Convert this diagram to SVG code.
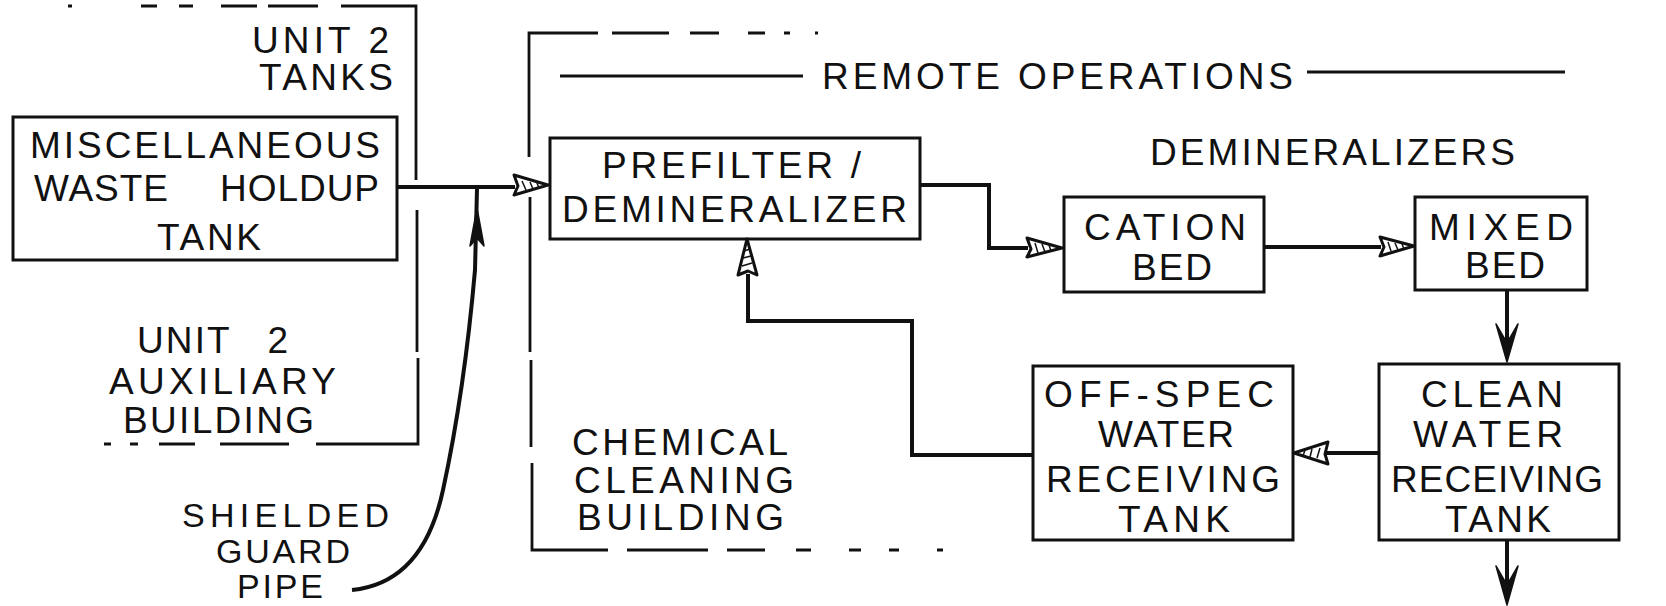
<svg xmlns="http://www.w3.org/2000/svg" width="1666" height="606" viewBox="0 0 1666 606">
<style>
  text { font-family: "Liberation Sans", Arial, sans-serif; font-size: 37px; fill: #111; }
  .sm { font-size: 34px; }
  .box { fill: none; stroke: #111; stroke-width: 3; }
  .region { fill: none; stroke: #111; stroke-width: 2.8; }
  .pipe { fill: none; stroke: #111; stroke-width: 4; stroke-linejoin: miter; }
  .thin { fill: none; stroke: #111; stroke-width: 2.8; }
  .head { fill: #fff; stroke: #111; stroke-width: 3; stroke-linejoin: round; }
  .hatch { fill: none; stroke: #111; stroke-width: 1.5; }
  .barb { fill: #111; stroke: #111; stroke-width: 1.5; stroke-linejoin: round; }
</style>
<rect x="0" y="0" width="1666" height="606" fill="#fff"/>

<!-- Region outlines -->
<g id="unit2-region">
  <path class="region" d="M68,6 H72 M141,6 H157 M179,6 H193 M221,6 H257 M268,6 H318 M341,6 H416 V180 M417,210 V352 M418,358 V444 H316 M289,444 H220 M195,444 H159 M138,444 H130 M111,444 H104"/>
  <text x="252" y="53" textLength="137" lengthAdjust="spacing">UNIT 2</text>
  <text x="259" y="90" textLength="134" lengthAdjust="spacing">TANKS</text>
  <text x="137" y="353" textLength="151" lengthAdjust="spacing" word-spacing="24">UNIT 2</text>
  <text x="109" y="394" textLength="227" lengthAdjust="spacing">AUXILIARY</text>
  <text x="123" y="433" textLength="191" lengthAdjust="spacing">BUILDING</text>
</g>

<g id="remote-region">
  <path class="region" d="M818,33 H815 M790,33 H784 M765,33 H748 M719,33 H690 M669,33 H612 M598,33 H529 V157 M530,197 V352 M531,360 V447 M532,463 V550 H608 M627,550 H708 M727,550 H765 M796,550 H811 M849,550 H861 M889,550 H899 M937,550 H943"/>
  <path class="thin" d="M560,76 H803 M1307,72 H1565"/>
  <text x="822" y="89" textLength="471" lengthAdjust="spacing">REMOTE OPERATIONS</text>
  <text x="1150" y="165" textLength="365" lengthAdjust="spacing">DEMINERALIZERS</text>
  <text x="572" y="455" textLength="216" lengthAdjust="spacing">CHEMICAL</text>
  <text x="574" y="493" textLength="220" lengthAdjust="spacing">CLEANING</text>
  <text x="577" y="530" textLength="207" lengthAdjust="spacing">BUILDING</text>
</g>

<!-- Nodes -->
<g id="misc-waste-tank">
  <rect class="box" x="13" y="117" width="384" height="143"/>
  <text x="30" y="158" textLength="350" lengthAdjust="spacing">MISCELLANEOUS</text>
  <text x="34" y="201" textLength="345" lengthAdjust="spacing" word-spacing="40">WASTE HOLDUP</text>
  <text x="157" y="250" textLength="104" lengthAdjust="spacing">TANK</text>
</g>

<g id="prefilter">
  <rect class="box" x="550" y="138" width="370" height="101"/>
  <text x="602" y="178" textLength="259" lengthAdjust="spacing">PREFILTER /</text>
  <text x="562" y="222" textLength="345" lengthAdjust="spacing">DEMINERALIZER</text>
</g>

<g id="cation-bed">
  <rect class="box" x="1064" y="197" width="200" height="95"/>
  <text x="1084" y="240" textLength="162" lengthAdjust="spacing">CATION</text>
  <text x="1132" y="280" textLength="80" lengthAdjust="spacing">BED</text>
</g>

<g id="mixed-bed">
  <rect class="box" x="1415" y="197" width="172" height="93"/>
  <text x="1429" y="240" textLength="144" lengthAdjust="spacing">MIXED</text>
  <text x="1465" y="278" textLength="80" lengthAdjust="spacing">BED</text>
</g>

<g id="clean-water-tank">
  <rect class="box" x="1379" y="364" width="240" height="176"/>
  <text x="1421" y="407" textLength="142" lengthAdjust="spacing">CLEAN</text>
  <text x="1413" y="447" textLength="150" lengthAdjust="spacing">WATER</text>
  <text x="1391" y="492" textLength="212" lengthAdjust="spacing">RECEIVING</text>
  <text x="1445" y="532" textLength="106" lengthAdjust="spacing">TANK</text>
</g>

<g id="off-spec-tank">
  <rect class="box" x="1033" y="366" width="260" height="174"/>
  <text x="1044" y="407" textLength="230" lengthAdjust="spacing">OFF-SPEC</text>
  <text x="1098" y="447" textLength="136" lengthAdjust="spacing">WATER</text>
  <text x="1046" y="492" textLength="234" lengthAdjust="spacing">RECEIVING</text>
  <text x="1118" y="532" textLength="112" lengthAdjust="spacing">TANK</text>
</g>

<g id="shielded-guard-pipe-label">
  <text class="sm" x="182" y="527" textLength="207" lengthAdjust="spacing">SHIELDED</text>
  <text class="sm" x="216" y="563" textLength="134" lengthAdjust="spacing">GUARD</text>
  <text class="sm" x="237" y="598" textLength="86" lengthAdjust="spacing">PIPE</text>
</g>

<!-- Connectors -->
<g id="connectors">
  <!-- misc tank to prefilter -->
  <path class="pipe" d="M397,187 H515"/>
  <polygon class="head" points="548,185 514,175 518,186 514,195"/>
  <path class="hatch" d="M522,181 L526,190 M530,182 L533,189 M537,183 L539,188"/>

  <!-- shielded guard pipe -->
  <path class="pipe" d="M352,590 C392,586 428,560 443,490 C456,430 468,350 475,270 L477,189"/>
  <polygon class="barb" points="477,208 484,246 477,238 470,246"/>

  <!-- prefilter to cation -->
  <path class="pipe" d="M920,185 H989 V248 H1028"/>
  <polygon class="head" points="1062,248 1027,238 1031,249 1027,257"/>
  <path class="hatch" d="M1035,243 L1038,253 M1042,244 L1045,252 M1049,245 L1051,251"/>

  <!-- cation to mixed -->
  <path class="pipe" d="M1264,247 H1381"/>
  <polygon class="head" points="1414,246 1380,237 1384,247 1380,256"/>
  <path class="hatch" d="M1388,242 L1391,251 M1395,243 L1398,250 M1402,244 L1404,249"/>

  <!-- mixed to clean -->
  <path class="pipe" d="M1507,290 V350"/>
  <polygon class="barb" points="1496,324 1507,362 1518,324 1507,343"/>

  <!-- clean to off-spec -->
  <path class="pipe" d="M1379,453 H1326"/>
  <polygon class="head" points="1294,453 1328,442 1325,454 1328,464"/>
  <path class="hatch" d="M1320,448 L1317,458 M1312,449 L1310,457 M1305,450 L1303,456"/>

  <!-- off-spec back to prefilter -->
  <path class="pipe" d="M1033,455 H912 V321 H748 V274"/>
  <polygon class="head" points="747,239 738,275 748,271 757,275"/>
  <path class="hatch" d="M742,266 L752,263 M743,258 L751,256 M744,251 L750,249"/>

  <!-- clean water out -->
  <path class="pipe" d="M1507,540 V592"/>
  <polygon class="barb" points="1496,566 1507,605 1518,566 1507,585"/>
</g>
</svg>
